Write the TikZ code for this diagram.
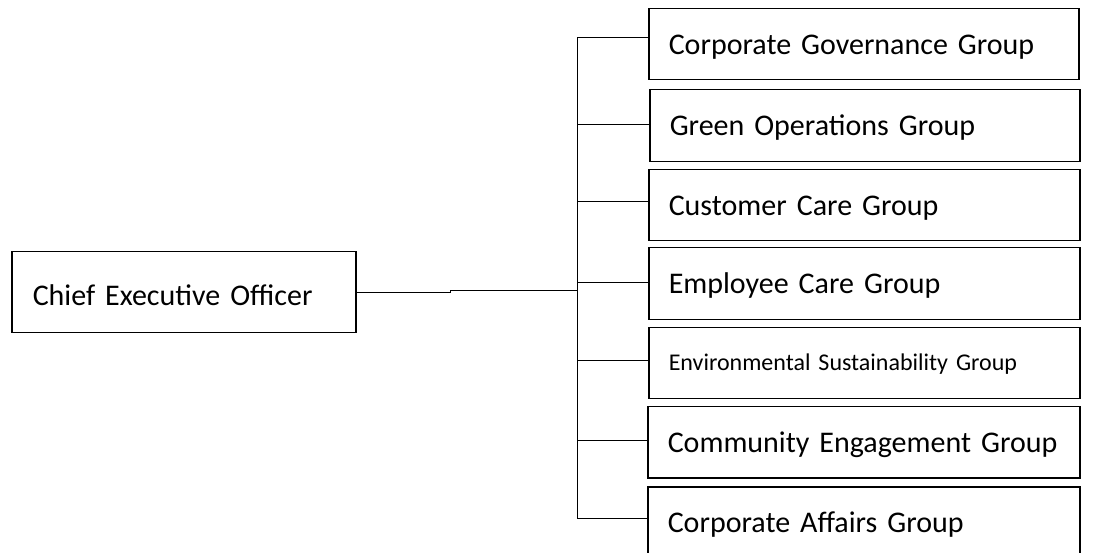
\documentclass[tikz,border=0pt]{standalone}
\usepackage{fontspec}
\setmainfont{Carlito}
\setlength{\parindent}{0pt}
\begin{document}
\begin{tikzpicture}[x=1pt,y=-1pt,
  box/.style={draw, line width=1.5pt, rectangle, anchor=north west,
    inner xsep=20pt, inner ysep=0pt, align=left,
    font=\fontsize{30}{30}\selectfont, text height=22pt, text depth=2pt},
  link/.style={draw, line width=1pt}]
\useasboundingbox (0,0) rectangle (1112,553);
% chief executive
\node[box, inner xsep=21pt, minimum width=344pt, minimum height=81pt, text width=302pt, text height=28pt] (ceo) at (11,251) {Chief Executive Officer};
% groups
\node[box, minimum width=430pt, minimum height=71pt, text width=390pt] (g1) at (648,8) {Corporate Governance Group};
\node[box, minimum width=430pt, minimum height=72pt, text width=390pt] (g2) at (649,89) {Green Operations Group};
\node[box, minimum width=431pt, minimum height=71pt, text width=391pt] (g3) at (648,169) {Customer Care Group};
\node[box, minimum width=431pt, minimum height=72pt, text width=391pt] (g4) at (648,247) {Employee Care Group};
\node[box, minimum width=431pt, minimum height=71pt, text width=391pt,
  font=\fontsize{24}{24}\selectfont, text height=17pt] (g5) at (648,327) {Environmental Sustainability Group};
\node[box, minimum width=432pt, minimum height=71pt, text width=392pt] (g6) at (647,406) {Community Engagement Group};
\node[box, minimum width=432pt, minimum height=72pt, text width=392pt] (g7) at (647,486) {Corporate Affairs Group};
% points on the vertical trunk
\coordinate (t1) at (577,38);
\coordinate (t2) at (577,124.5);
\coordinate (t3) at (577,202);
\coordinate (t4) at (577,283);
\coordinate (t5) at (577,361);
\coordinate (t6) at (577,441);
\coordinate (t7) at (577,518);
\coordinate (jog) at (450,292.4);
\coordinate (tc) at (577,291);
% connectors
\draw[link] (ceo.east |- jog) -- (jog) -- ++(0,-1.4) -- (tc);
\draw[link] (t1) -- (t7);
\foreach \i in {1,...,7} \draw[link] (t\i) -- (t\i -| g\i.west);
\end{tikzpicture}
\end{document}
